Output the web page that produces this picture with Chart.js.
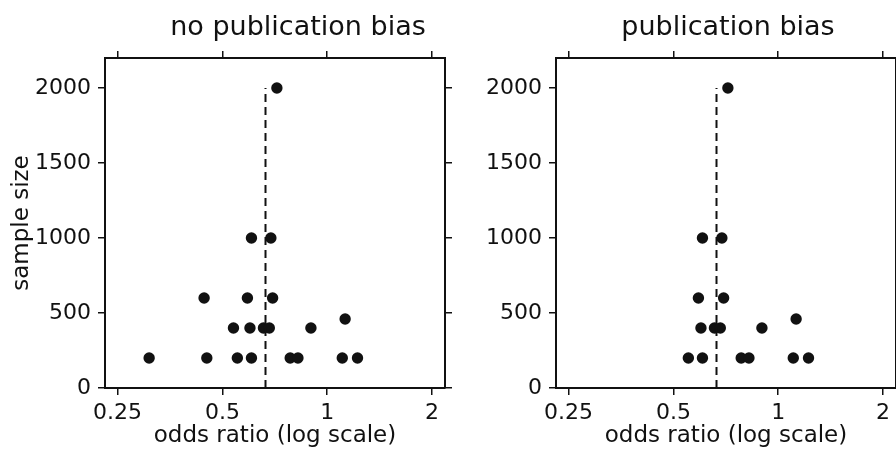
<!DOCTYPE html>
<html>
<head>
<meta charset="utf-8">
<script src="https://cdn.jsdelivr.net/npm/chart.js@4.4.1/dist/chart.umd.min.js"></script>
<style>
  html, body { margin: 0; padding: 0; background: #fff; overflow: hidden; }
  #wrap { position: relative; width: 896px; height: 450px; overflow: hidden; }
  canvas { position: absolute; top: 0; }
  #left { left: 0; }
  #right { left: 451px; }
</style>
</head>
<body>
<div id="wrap">
  <canvas id="left" width="456" height="450"></canvas>
  <canvas id="right" width="456" height="450"></canvas>
</div>
<script>
const xTicks = [0.25, 0.5, 1, 2];
const xTickLabels = ["0.25", "0.5", "1", "2"];
const yTicks = [0, 500, 1000, 1500, 2000];
const yTickLabels = ["0", "500", "1000", "1500", "2000"];

// pooled estimate, drawn as the dashed line
const pooledOR = 0.665;
const pooledN = [0, 2000];

// no publication bias: all studies
const allOR = [0.308, 0.451, 0.552, 0.606, 0.783, 0.824, 1.105, 1.222,
               0.538, 0.600, 0.656, 0.682, 0.898,
               1.126,
               0.443, 0.590, 0.697,
               0.606, 0.689,
               0.717];
const allN = [200, 200, 200, 200, 200, 200, 200, 200,
              400, 400, 400, 400, 400,
              460,
              600, 600, 600,
              1000, 1000,
              2000];

// publication bias: only the studies that got published
const pubOR = [0.552, 0.606, 0.783, 0.824, 1.105, 1.222,
               0.600, 0.656, 0.682, 0.898,
               1.126,
               0.590, 0.697,
               0.606, 0.689,
               0.717];
const pubN = [200, 200, 200, 200, 200, 200,
              400, 400, 400, 400,
              460,
              600, 600,
              1000, 1000,
              2000];

const ink = "#111";
Chart.defaults.font.family = "'DejaVu Sans', sans-serif";
Chart.defaults.color = ink;

const panelTitle = {
  id: "panelTitle",
  afterDraw(chart, args, opts) {
    const { ctx, chartArea } = chart;
    ctx.save();
    ctx.font = "27px 'DejaVu Sans', sans-serif";
    ctx.fillStyle = ink;
    ctx.textAlign = "center";
    ctx.textBaseline = "alphabetic";
    ctx.fillText(opts.text, (chartArea.left + chartArea.right) / 2 + opts.shift, 35);
    ctx.restore();
  },
};

const axisLook = () => ({
  border: { display: true, color: ink, width: 2 },
  grid: { drawOnChartArea: false, drawTicks: true, tickLength: 7, color: ink, lineWidth: 1.5 },
});

const setXTicks = (scale) => { scale.ticks = xTicks.map((v) => ({ value: v })); };
const setYTicks = (scale) => { scale.ticks = yTicks.map((v) => ({ value: v })); };

const makePanel = (canvasId, title, titleShift, orValues, nValues, showYTitle) => {
  const canvas = document.getElementById(canvasId);
  new Chart(canvas, {
    type: "scatter",
    data: {
      datasets: [
        {
          data: pooledN.map((n) => ({ x: pooledOR, y: n })),
          showLine: true,
          borderColor: ink,
          borderWidth: 2,
          borderDash: [8, 5],
          pointRadius: 0,
        },
        {
          data: orValues.map((v, i) => ({ x: v, y: nValues[i] })),
          backgroundColor: ink,
          borderWidth: 0,
          pointRadius: 5.7,
        },
      ],
    },
    options: {
      responsive: false,
      devicePixelRatio: 1,
      animation: false,
      events: [],
      layout: { padding: { top: 50, left: 0, right: 0, bottom: 0 } },
      plugins: {
        legend: { display: false },
        tooltip: { enabled: false },
        panelTitle: { text: title, shift: titleShift },
      },
      scales: {
        x: {
          type: "logarithmic",
          position: "bottom",
          min: 0.23,
          max: 2.18,
          afterBuildTicks: setXTicks,
          afterFit: (s) => { s.height = 62; },
          ticks: {
            callback: (v, i) => xTickLabels[i],
            color: ink,
            font: { size: 22 },
            padding: 5,
            maxRotation: 0,
            autoSkip: false,
          },
          title: {
            display: true,
            text: "odds ratio (log scale)",
            color: ink,
            font: { size: 23 },
            padding: { top: 0, bottom: 0 },
          },
          ...axisLook(),
        },
        xTop: {
          type: "logarithmic",
          position: "top",
          min: 0.23,
          max: 2.18,
          afterBuildTicks: setXTicks,
          afterFit: (s) => { s.height = 8; },
          ticks: { display: false },
          ...axisLook(),
        },
        y: {
          type: "linear",
          position: "left",
          min: 0,
          max: 2200,
          afterBuildTicks: setYTicks,
          afterFit: (s) => { s.width = 105; },
          ticks: {
            callback: (v, i) => yTickLabels[i],
            color: ink,
            font: { size: 22 },
            padding: 7,
          },
          title: {
            display: showYTitle,
            text: "sample size",
            color: ink,
            font: { size: 23 },
            padding: { top: 8, bottom: 0 },
          },
          ...axisLook(),
        },
        yRight: {
          type: "linear",
          position: "right",
          min: 0,
          max: 2200,
          afterBuildTicks: setYTicks,
          afterFit: (s) => { s.width = 11; },
          ticks: { display: false },
          ...axisLook(),
        },
      },
    },
    plugins: [panelTitle],
  });
};

makePanel("left", "no publication bias", 23, allOR, allN, true);
makePanel("right", "publication bias", 2, pubOR, pubN, false);
</script>
</body>
</html>
